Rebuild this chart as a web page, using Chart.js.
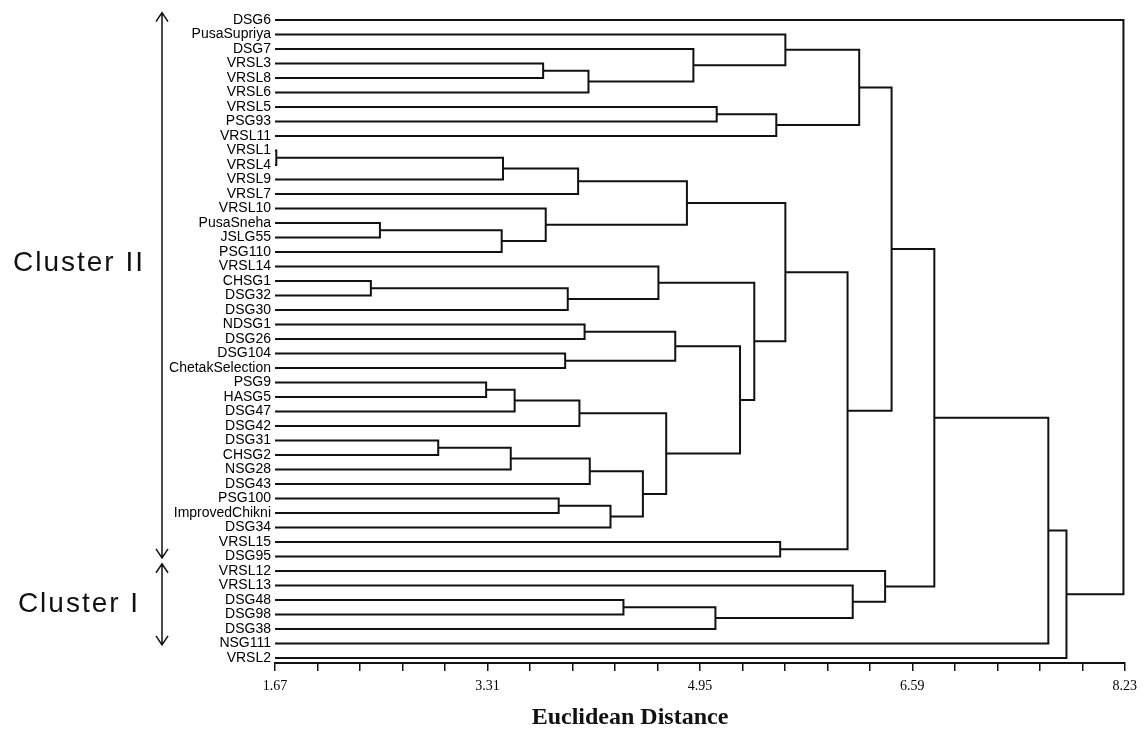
<!DOCTYPE html>
<html>
<head>
<meta charset="utf-8">
<script src="https://cdn.jsdelivr.net/npm/chart.js@4.4.1/dist/chart.umd.min.js"></script>
<style>
html,body{margin:0;padding:0;background:#fff;}
#wrap{width:1144px;height:731px;position:relative;}
</style>
</head>
<body>
<div id="wrap"><canvas id="c"></canvas></div>
<script>
// Leaf labels (top to bottom)
const leaves = ['DSG6','PusaSupriya','DSG7','VRSL3','VRSL8','VRSL6','VRSL5','PSG93','VRSL11','VRSL1',
  'VRSL4','VRSL9','VRSL7','VRSL10','PusaSneha','JSLG55','PSG110','VRSL14','CHSG1','DSG32',
  'DSG30','NDSG1','DSG26','DSG104','ChetakSelection','PSG9','HASG5','DSG47','DSG42','DSG31',
  'CHSG2','NSG28','DSG43','PSG100','ImprovedChikni','DSG34','VRSL15','DSG95','VRSL12','VRSL13',
  'DSG48','DSG98','DSG38','NSG111','VRSL2'];

// Merges: ids < 45 are leaves, id 45+k is the cluster created by merge k
const mergeA    = [9, 18, 14, 29, 25, 47, 45, 48, 49, 3, 13, 33, 23, 46, 51, 53, 21, 54, 52, 56, 40, 63, 17, 60, 61, 59, 2, 65, 6, 69, 67, 73, 36, 1, 70, 79, 39, 78, 38, 82, 84, 85, 86, 0];
const mergeB    = [10, 19, 15, 30, 26, 16, 11, 31, 27, 4, 50, 34, 24, 20, 12, 28, 22, 5, 32, 35, 41, 64, 58, 66, 57, 55, 62, 42, 7, 68, 74, 8, 37, 71, 75, 77, 72, 76, 81, 80, 83, 43, 44, 87];
const mergeDist = [1.68, 2.41, 2.48, 2.93, 3.30, 3.42, 3.43, 3.49, 3.52, 3.74, 3.76, 3.86, 3.91, 3.93, 4.01, 4.02, 4.06, 4.09, 4.10, 4.26, 4.36, 4.51, 4.63, 4.69, 4.76, 4.85, 4.90, 5.07, 5.08, 5.26, 5.37, 5.54, 5.57, 5.61, 5.61, 6.09, 6.13, 6.18, 6.38, 6.43, 6.76, 7.64, 7.78, 8.22];

// Axis
const xTickLabels = ['1.67','3.31','4.95','6.59','8.23'];
const xMinorPerInterval = 4;
const axisTitle = 'Euclidean Distance';

// Cluster annotations
const clusterNames = ['Cluster II', 'Cluster I'];
const clusterFirstLeaf = [0, 38];
const clusterLastLeaf = [37, 43];
const clusterLabelAt = [16.8, 40.3];

const xMin = parseFloat(xTickLabels[0]);
const xMax = parseFloat(xTickLabels[xTickLabels.length - 1]);
const tickVals = [];
for (let i = 0; i < xTickLabels.length - 1; i++) {
  const a = parseFloat(xTickLabels[i]), b = parseFloat(xTickLabels[i + 1]);
  for (let j = 0; j <= xMinorPerInterval; j++) tickVals.push(a + (b - a) * j / (xMinorPerInterval + 1));
}
tickVals.push(xMax);

const n = leaves.length;
const nodeX = [], nodeY = [];
for (let i = 0; i < n; i++) { nodeX[i] = xMin; nodeY[i] = i; }
const datasets = [];
for (let k = 0; k < mergeA.length; k++) {
  const a = mergeA[k], b = mergeB[k], h = mergeDist[k];
  datasets.push({
    data: [{x: nodeX[a], y: nodeY[a]}, {x: h, y: nodeY[a]}, {x: h, y: nodeY[b]}, {x: nodeX[b], y: nodeY[b]}],
    showLine: true, borderColor: '#111', borderWidth: 2, pointRadius: 0, fill: false,
    borderJoinStyle: 'miter', clip: false, tension: 0
  });
  nodeX[n + k] = h;
  nodeY[n + k] = (nodeY[a] + nodeY[b]) / 2;
}

const annotate = {
  id: 'annotate',
  afterDraw(chart) {
    const ctx = chart.ctx, ys = chart.scales.y;
    ctx.save();
    ctx.strokeStyle = '#111';
    ctx.fillStyle = '#111';
    ctx.lineWidth = 1.5;
    const ax = 162;
    for (let c = 0; c < clusterNames.length; c++) {
      const top = ys.getPixelForValue(clusterFirstLeaf[c] - 0.5);
      const bot = ys.getPixelForValue(clusterLastLeaf[c] + 0.1);
      ctx.beginPath();
      ctx.moveTo(ax, top); ctx.lineTo(ax, bot);
      ctx.moveTo(ax - 6, top + 9); ctx.lineTo(ax, top); ctx.lineTo(ax + 6, top + 9);
      ctx.moveTo(ax - 6, bot - 9); ctx.lineTo(ax, bot); ctx.lineTo(ax + 6, bot - 9);
      ctx.stroke();
      ctx.font = '28px "Liberation Sans", Arial, sans-serif';
      if ('letterSpacing' in ctx) ctx.letterSpacing = '2px';
      ctx.textAlign = 'left';
      ctx.textBaseline = 'middle';
      const w = ctx.measureText(clusterNames[c]).width;
      ctx.fillText(clusterNames[c], 79 - w / 2, ys.getPixelForValue(clusterLabelAt[c]));
      if ('letterSpacing' in ctx) ctx.letterSpacing = '0px';
    }
    ctx.font = 'bold 24px "Liberation Serif", "Times New Roman", serif';
    ctx.textAlign = 'center';
    ctx.textBaseline = 'middle';
    ctx.fillText(axisTitle, 630, 718);
    ctx.restore();
  }
};

new Chart(document.getElementById('c'), {
  type: 'scatter',
  data: { datasets },
  plugins: [annotate],
  options: {
    responsive: true,
    maintainAspectRatio: false,
    animation: false,
    events: [],
    layout: { padding: { top: 17, right: 17, left: 0, bottom: 0 } },
    plugins: { legend: { display: false }, tooltip: { enabled: false } },
    scales: {
      x: {
        type: 'linear', min: xMin, max: xMax,
        afterBuildTicks: s => { s.ticks = tickVals.map(v => ({ value: v })); },
        afterFit: s => { s.height = 68; },
        ticks: {
          autoSkip: false, maxRotation: 0, padding: 7, color: '#000',
          font: { family: '"Liberation Serif", "Times New Roman", serif', size: 14 },
          callback: (v, i) => (i % (xMinorPerInterval + 1) === 0 ? xTickLabels[i / (xMinorPerInterval + 1)] : '')
        },
        grid: { drawOnChartArea: false, drawTicks: true, tickLength: 8, color: '#111', lineWidth: 1.5 },
        border: { display: true, color: '#111', width: 2 }
      },
      y: {
        type: 'linear', reverse: true, min: -0.2, max: 44.345,
        afterBuildTicks: s => { s.ticks = leaves.map((_, i) => ({ value: i })); },
        afterFit: s => { s.width = 275; },
        ticks: {
          autoSkip: false, padding: 4, color: '#000',
          font: { family: '"Liberation Sans", Arial, sans-serif', size: 14 },
          callback: v => leaves[v]
        },
        grid: { display: false, drawTicks: false },
        border: { display: false }
      }
    }
  }
});
</script>
</body>
</html>
